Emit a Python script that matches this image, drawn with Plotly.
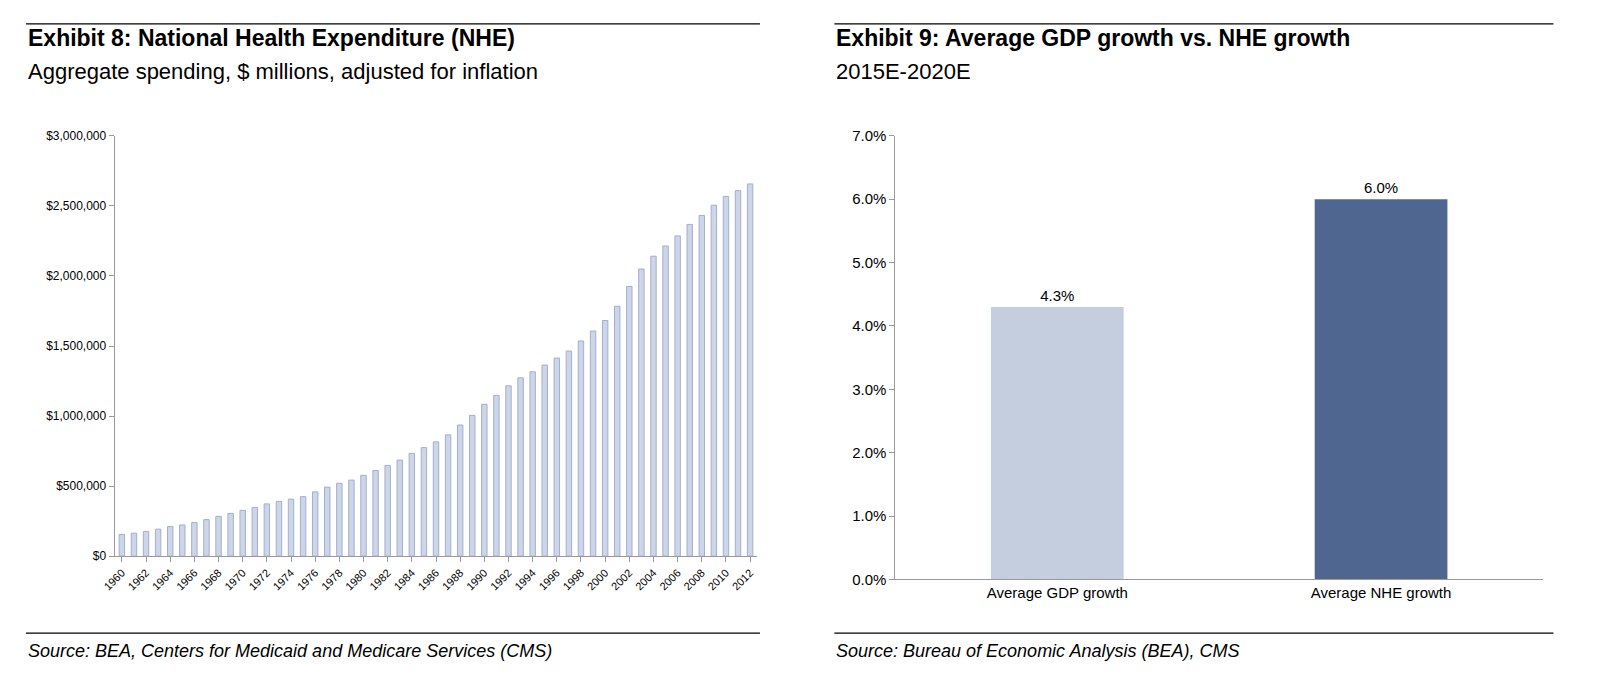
import plotly.graph_objects as go

years = list(range(1960, 2013))
nhe = [155, 164, 177, 193, 211, 223, 241, 261, 284, 305, 327, 348, 373, 391, 407, 425,
       459, 493, 520, 543, 577, 611, 648, 686, 734, 775, 816, 866, 936, 1005, 1084, 1148,
       1216, 1273, 1316, 1364, 1414, 1464, 1536, 1607, 1682, 1784, 1925, 2050, 2141, 2214,
       2286, 2368, 2432, 2505, 2568, 2609, 2657]
nhe = [v * 1000 for v in nhe]
cats = ["Average GDP growth", "Average NHE growth"]
growth = [0.043, 0.060]
growth_labels = ["4.3%", "6.0%"]

F = "Liberation Sans, Arial, sans-serif"
fig = go.Figure()
fig.add_trace(go.Bar(x=years, y=nhe, marker=dict(color="#CDD5E8", line=dict(color="#A3AFCB", width=1)),
                     xaxis="x", yaxis="y", showlegend=False))
fig.add_trace(go.Bar(x=cats, y=growth, marker=dict(color=["#C5CEDF", "#4F6690"], line=dict(width=0)),
                     text=growth_labels, textposition="outside", textfont=dict(size=15, color="black", family=F),
                     cliponaxis=False, xaxis="x2", yaxis="y2", showlegend=False))

ax = dict(showgrid=False, showline=True, linecolor="#9A9A9A", ticks="outside", tickcolor="#9A9A9A",
          ticklen=5, zeroline=False, tickfont=dict(family=F, color="black"))
fig.update_layout(
    width=1600, height=681, margin=dict(l=0, r=0, t=0, b=0),
    plot_bgcolor="white", paper_bgcolor="white", bargap=0.55,
    xaxis=dict(ax, domain=[0.059, 0.464], anchor="y", tickvals=years[::2], tickangle=-45,
               range=[1959.4, 2012.6], tickfont=dict(family=F, size=11, color="black")),
    yaxis=dict(ax, domain=[0.188, 0.821], anchor="x", range=[0, 3000000], dtick=500000,
               tickprefix="$", tickformat=",d", tickfont=dict(family=F, size=12, color="black")),
    xaxis2=dict(ax, domain=[0.551, 0.959], anchor="y2", ticks="", tickfont=dict(family=F, size=15, color="black")),
    yaxis2=dict(ax, domain=[0.153, 0.821], anchor="x2", range=[0, 0.07], dtick=0.01, tickformat=".1%",
                tickfont=dict(family=F, size=15, color="black")),
)
fig.update_traces(selector=dict(xaxis="x2"), width=0.41)

for x0, x1 in [(5, 745), (820, 1545)]:
    for yy in [7, 632]:
        fig.add_shape(type="line", xref="paper", yref="paper", x0=x0/1600, x1=x1/1600,
                      y0=1-yy/681, y1=1-yy/681, line=dict(color="black", width=1.2))

def txt(x, y, s, size, bold=False, italic=False):
    fig.add_annotation(xref="paper", yref="paper", x=x/1600, y=1-y/681, xanchor="left", yanchor="middle",
                       text=s, showarrow=False,
                       font=dict(family=F, size=size, color="black", weight="bold" if bold else "normal",
                                 style="italic" if italic else "normal"))

txt(5, 22, "Exhibit 8: National Health Expenditure (NHE)", 23, bold=True)
txt(5, 56, "Aggregate spending, $ millions, adjusted for inflation", 22)
txt(820, 22, "Exhibit 9: Average GDP growth vs. NHE growth", 23, bold=True)
txt(820, 56, "2015E-2020E", 22)
txt(5, 650, "Source: BEA, Centers for Medicaid and Medicare Services (CMS)", 18, italic=True)
txt(820, 650, "Source: Bureau of Economic Analysis (BEA), CMS", 18, italic=True)

fig.write_html("out.html")
